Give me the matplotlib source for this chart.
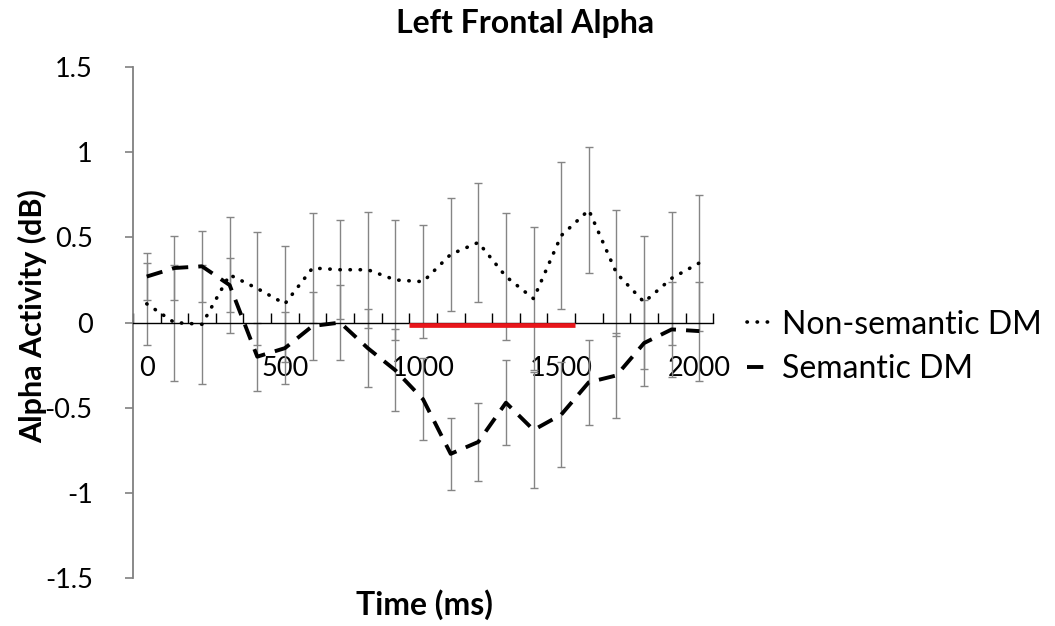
import matplotlib
matplotlib.use("Agg")
import matplotlib.pyplot as plt
import numpy as np

plt.rcParams['font.family'] = ['Lato', 'DejaVu Sans']

# -------------
# Data
# -------------
time_ms = [0, 100, 200, 300, 400, 500, 600, 700, 800, 900, 1000,
           1100, 1200, 1300, 1400, 1500, 1600, 1700, 1800, 1900, 2000]
non_semantic = [0.11, 0.00, -0.01, 0.28, 0.20, 0.11, 0.32, 0.31, 0.31, 0.25, 0.24,
                0.40, 0.47, 0.27, 0.14, 0.51, 0.66, 0.29, 0.12, 0.26, 0.35]
non_semantic_err = [0.24, 0.34, 0.35, 0.34, 0.33, 0.34, 0.32, 0.29, 0.34, 0.35, 0.33,
                    0.33, 0.35, 0.37, 0.42, 0.43, 0.37, 0.37, 0.39, 0.39, 0.40]
semantic = [0.27, 0.32, 0.33, 0.22, -0.20, -0.15, -0.02, 0.00, -0.15, -0.28, -0.45,
            -0.77, -0.70, -0.47, -0.63, -0.54, -0.35, -0.31, -0.12, -0.04, -0.05]
semantic_err = [0.14, 0.19, 0.21, 0.16, 0.20, 0.21, 0.20, 0.22, 0.23, 0.24, 0.24,
                0.21, 0.23, 0.25, 0.34, 0.31, 0.25, 0.25, 0.25, 0.28, 0.29]
sig_window = [950, 1550]
x_labels = [0, 500, 1000, 1500, 2000]
y_ticks = [-1.5, -1, -0.5, 0, 0.5, 1, 1.5]

# -------------
# Drawing
# -------------
fig = plt.figure(figsize=(10.55, 6.26), dpi=100)
ax = fig.add_axes([0.126, 0.0762, 0.550, 0.817])

ax.errorbar(time_ms, non_semantic, yerr=non_semantic_err, fmt='none',
            ecolor='#858585', elinewidth=1, capsize=3, capthick=1, zorder=2)
ax.errorbar(time_ms, semantic, yerr=semantic_err, fmt='none',
            ecolor='#858585', elinewidth=1, capsize=3, capthick=1, zorder=2)

ax.plot(time_ms, non_semantic, color='black', lw=2.6,
        linestyle=(0, (0.1, 2.7)), dash_capstyle='round',
        label='Non-semantic DM', zorder=3)
ax.plot(time_ms, semantic, color='black', lw=2.8,
        linestyle=(0, (4.2, 2.6)), dash_capstyle='butt',
        label='Semantic DM', zorder=3)

ax.plot(sig_window, [-0.012, -0.012], color='#e8161b', lw=3.4,
        solid_capstyle='butt', zorder=4)

ax.set_xlim(-50, 2050)
ax.set_ylim(-1.5, 1.5)

# axes like Excel: x axis crossing at zero
for s in ['top', 'right']:
    ax.spines[s].set_visible(False)
ax.spines['bottom'].set_position(('data', 0))
ax.spines['bottom'].set_color('black')
ax.spines['bottom'].set_linewidth(1)
ax.spines['left'].set_color('#808080')
ax.spines['left'].set_linewidth(1.3)

ax.set_xticks(x_labels)
ax.set_xticklabels([str(v) for v in x_labels])
ax.set_xticks(np.arange(-50, 2051, 100), minor=True)
ax.tick_params(axis='x', which='major', length=0, pad=24, labelsize=19.5)
ax.tick_params(axis='x', which='minor', direction='in', length=7, width=1,
               color='black')

ax.set_yticks(y_ticks)
ax.set_yticklabels(['%g' % v for v in y_ticks])
ax.tick_params(axis='y', direction='out', length=6, width=1.2,
               color='#808080', labelsize=19.5, pad=23)

fig.text(0.031, 0.495, 'Alpha Activity (dB)', rotation=90, fontsize=22,
         fontweight='bold', ha='center', va='center')
fig.text(0.402, 0.034, 'Time (ms)', fontsize=23, fontweight='bold',
         ha='center', va='center')
fig.text(0.498, 0.962, 'Left Frontal Alpha', fontsize=23, fontweight='bold',
         ha='center', va='center')

ax.legend(loc='center left', bbox_to_anchor=(0.708, 0.446),
          bbox_transform=fig.transFigure, frameon=False, fontsize=23,
          handlelength=0.8, handletextpad=0.3, labelspacing=0.45,
          borderpad=0, borderaxespad=0)

fig.savefig('out.png', dpi=100)
